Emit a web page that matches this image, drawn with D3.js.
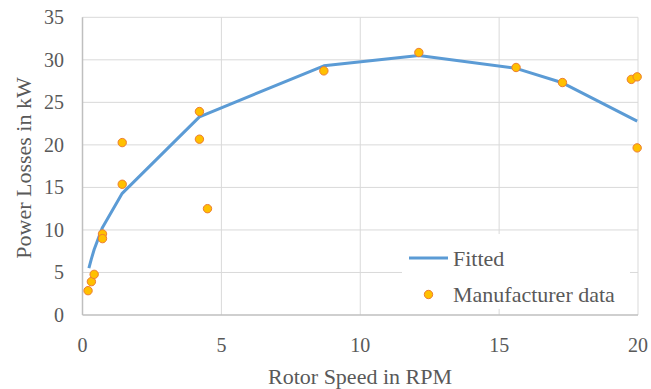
<!DOCTYPE html>
<html><head><meta charset="utf-8">
<script src="https://cdn.jsdelivr.net/npm/d3@7"></script>
<style>body{margin:0;background:#fff}svg{display:block}</style>
</head><body>
<svg id="c" width="651" height="389"></svg>
<script>
const dataX = [0.2, 0.32, 0.42, 0.72, 0.72, 1.43, 1.43, 4.21, 4.21, 4.5, 8.69, 12.11, 15.61, 17.28, 19.76, 19.97, 19.97];
const dataY = [2.86, 3.92, 4.78, 9.53, 8.98, 15.37, 20.27, 23.92, 20.67, 12.5, 28.7, 30.86, 29.1, 27.33, 27.7, 28.0, 19.65];
const fitX = [0.23, 0.32, 0.42, 0.72, 1.43, 4.21, 8.69, 12.11, 15.61, 17.28, 19.97];
const fitY = [5.5, 6.6, 7.7, 10.3, 14.3, 23.3, 29.3, 30.5, 29.0, 27.3, 22.8];
const xTicks = [0, 5, 10, 15, 20];
const yTicks = [0, 5, 10, 15, 20, 25, 30, 35];
const seriesNames = ["Fitted", "Manufacturer data"];

const font = "'Liberation Serif','Times New Roman',serif";
const txt = "#595959";
const svg = d3.select("#c");
const x = d3.scaleLinear().domain([0, 20]).range([82.5, 638]);
const y = d3.scaleLinear().domain([0, 35]).range([315, 17.3]);

// gridlines
svg.append("g").selectAll("line").data(yTicks.filter(d => d > 0)).join("line")
  .attr("x1", x(0)).attr("x2", x(20)).attr("y1", d => y(d)).attr("y2", d => y(d))
  .attr("stroke", "#d9d9d9").attr("stroke-width", 1);
svg.append("g").selectAll("line").data(xTicks.filter(d => d > 0)).join("line")
  .attr("x1", d => x(d)).attr("x2", d => x(d)).attr("y1", y(0)).attr("y2", y(35))
  .attr("stroke", "#d9d9d9").attr("stroke-width", 1);

// axes lines
svg.append("line").attr("x1", x(0)).attr("x2", x(0)).attr("y1", y(0)).attr("y2", y(35))
  .attr("stroke", "#bfbfbf").attr("stroke-width", 1.5);
svg.append("line").attr("x1", x(0)).attr("x2", x(20)).attr("y1", y(0)).attr("y2", y(0))
  .attr("stroke", "#bfbfbf").attr("stroke-width", 1.5);

// tick labels
svg.append("g").selectAll("text").data(yTicks).join("text")
  .attr("x", 64).attr("y", d => y(d)).attr("dy", "0.35em")
  .attr("text-anchor", "end").attr("font-family", font).attr("font-size", 20).attr("fill", txt)
  .text(d => d);
svg.append("g").selectAll("text").data(xTicks).join("text")
  .attr("x", d => x(d)).attr("y", 352)
  .attr("text-anchor", "middle").attr("font-family", font).attr("font-size", 20).attr("fill", txt)
  .text(d => d);

// titles
svg.append("text").attr("x", 360).attr("y", 384).attr("text-anchor", "middle")
  .attr("font-family", font).attr("font-size", 22).attr("fill", txt).text("Rotor Speed in RPM");
svg.append("text").attr("transform", "translate(23,168) rotate(-90)").attr("text-anchor", "middle")
  .attr("dy", "0.35em").attr("font-family", font).attr("font-size", 22).attr("fill", txt).text("Power Losses in kW");

// fitted line
const line = d3.line().x(d => x(d[0])).y(d => y(d[1]));
svg.append("path").datum(fitX.map((v, i) => [v, fitY[i]])).attr("d", line)
  .attr("fill", "none").attr("stroke", "#5b9bd5").attr("stroke-width", 3).attr("stroke-linejoin", "round");

// points
svg.append("g").selectAll("circle").data(dataX.map((v, i) => [v, dataY[i]])).join("circle")
  .attr("cx", d => x(d[0])).attr("cy", d => y(d[1])).attr("r", 4.2)
  .attr("fill", "#ffc000").attr("stroke", "#ed7d31").attr("stroke-width", 1);

// legend
const lg = svg.append("g");
lg.append("rect").attr("x", 402).attr("y", 234).attr("width", 228).attr("height", 75).attr("fill", "#fff");
lg.append("line").attr("x1", 409).attr("x2", 448).attr("y1", 258).attr("y2", 258)
  .attr("stroke", "#5b9bd5").attr("stroke-width", 3);
lg.append("text").attr("x", 453).attr("y", 258).attr("dy", "0.35em").attr("font-family", font)
  .attr("font-size", 22).attr("fill", txt).text(seriesNames[0]);
lg.append("circle").attr("cx", 428.5).attr("cy", 294.5).attr("r", 4.2)
  .attr("fill", "#ffc000").attr("stroke", "#ed7d31").attr("stroke-width", 1);
lg.append("text").attr("x", 453).attr("y", 294.5).attr("dy", "0.35em").attr("font-family", font)
  .attr("font-size", 22).attr("fill", txt).text(seriesNames[1]);
</script>
</body></html>
